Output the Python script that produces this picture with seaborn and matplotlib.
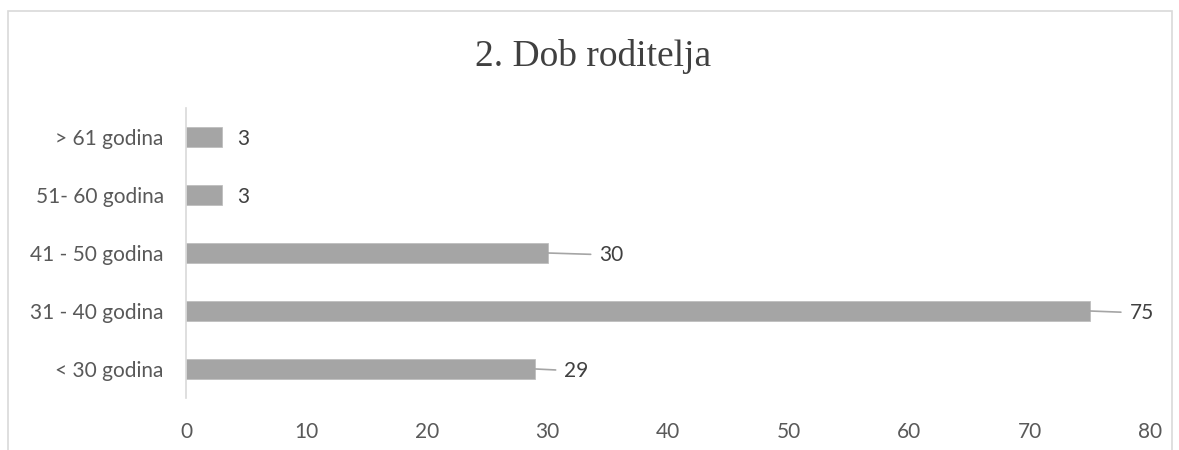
import matplotlib.pyplot as plt
from matplotlib.patches import Rectangle
import pandas as pd
import seaborn as sns

# Chart data
categories = ["> 61 godina", "51- 60 godina", "41 - 50 godina", "31 - 40 godina", "< 30 godina"]
values = [3, 3, 30, 75, 29]
x_ticks = [0, 10, 20, 30, 40, 50, 60, 70, 80]
title = "2. Dob roditelja"

df = pd.DataFrame({"dob": categories, "broj": values})

sns.set_theme(style="white")
plt.rcParams["font.family"] = ["Lato", "DejaVu Sans"]

fig = plt.figure(figsize=(11.79, 4.5), dpi=100)
ax = fig.add_axes([0.1578, 0.1156, 0.8176, 0.6444])

sns.barplot(data=df, x="broj", y="dob", order=categories, color="#a5a5a5",
            saturation=1, width=0.35, edgecolor="#bfbfbf", linewidth=0.6, ax=ax)

ax.set_xlim(0, 80)
ax.set_xticks(x_ticks)
ax.set_xlabel("")
ax.set_ylabel("")
ax.tick_params(axis="x", length=0, pad=17, labelsize=15, labelcolor="#595959")
ax.tick_params(axis="y", length=0, pad=16, labelsize=15, labelcolor="#595959")

for side in ["top", "right", "bottom"]:
    ax.spines[side].set_visible(False)
ax.spines["left"].set_color("#d9d9d9")
ax.spines["left"].set_linewidth(1.2)

# Data labels, the longer bars get a small leader line like in Excel
for i, v in enumerate(values):
    if v < 10:
        ax.annotate(str(v), xy=(v, i), xytext=(15, -2), textcoords="offset pixels",
                    ha="left", va="center", fontsize=15, color="#404040")
    else:
        gap = 52 if v == 30 else (40 if v == 75 else 29)
        ax.annotate(str(v), xy=(v, i), xytext=(gap, -2), textcoords="offset pixels",
                    ha="left", va="center", fontsize=15, color="#404040",
                    arrowprops=dict(arrowstyle="-", color="#a5a5a5", lw=1.2,
                                    shrinkA=4, shrinkB=0))

fig.text(0.503, 0.874, title, ha="center", va="center", fontsize=27,
         family=["Liberation Serif", "DejaVu Serif"], color="#404040")

# Outer chart border (bottom is cut off in the original)
fig.patches.append(Rectangle((8 / 1179, -0.05), 1164 / 1179, 1.05 - 11 / 450,
                             transform=fig.transFigure, fill=False,
                             edgecolor="#d9d9d9", linewidth=1.2))

fig.savefig("out.png", dpi=100)
